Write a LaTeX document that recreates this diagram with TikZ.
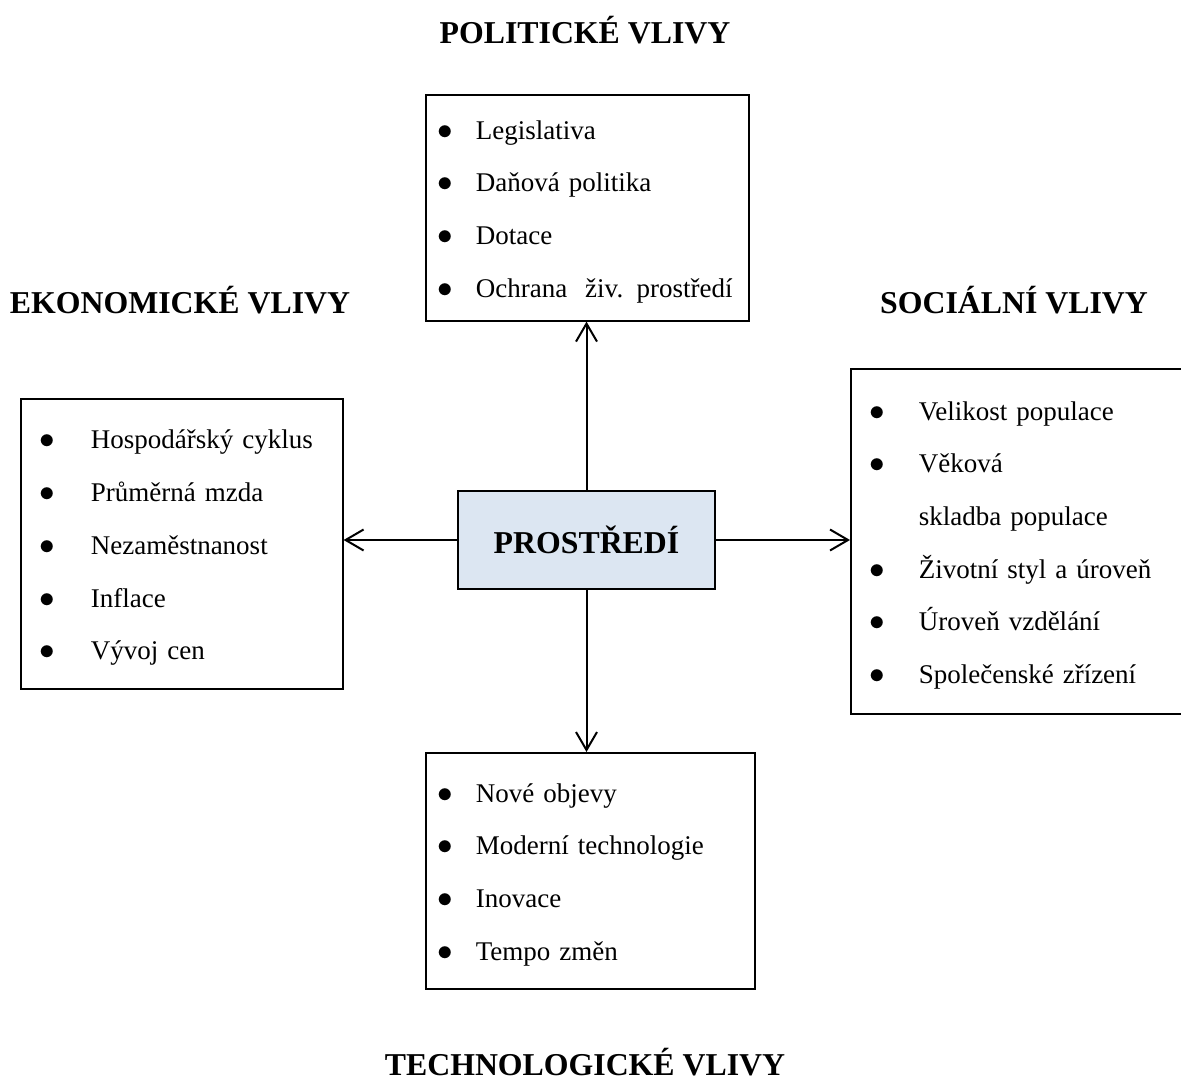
\documentclass[tikz,border=0pt]{standalone}
\usepackage{fontspec}
\setmainfont{Liberation Serif}
\usepackage{tikz}
\usetikzlibrary{arrows.meta,positioning,calc}
\definecolor{envblue}{RGB}{220,230,242}
\newcommand{\vlist}[2]{\begin{tabular}{@{}p{#1}@{}l@{}}#2\end{tabular}}
\newcommand{\bul}{\scalebox{1.25}{$\bullet$}}
\tikzset{
  base/.style={font=\fontsize{27}{52.7}\selectfont, text=black},
  listbox/.style={base, rectangle, draw=black, line width=1.6pt, fill=white, anchor=north west, align=left, inner ysep=0pt},
  envbox/.style={rectangle, draw=black, line width=1.4pt, fill=envblue, minimum width=257, minimum height=98, font=\fontsize{31.8}{36}\selectfont\bfseries},
  title/.style={font=\fontsize{31.8}{36}\selectfont\bfseries, inner sep=0pt},
  arr/.style={-{Straight Barb[length=18pt,width=21pt,line width=2pt]}, line width=2pt, draw=black},
}
\begin{document}
\begin{tikzpicture}[x=1pt,y=-1pt]
  \useasboundingbox (0,0) rectangle (1181,1081);
  \clip (0,0) rectangle (1181,1081);
  % environment
  \node[envbox] (env) at (586.5,540) {PROSTŘEDÍ};
  % political
  \node[listbox, inner xsep=12pt, text width=299pt, minimum height=226pt] (pol) at (425,94) {\vlist{38pt}{%
    \bul & Legislativa\\
    \bul & Daňová politika\\
    \bul & Dotace\\
    \bul & Ochrana\ \ živ. prostředí}};
  \node[title] (polT) at (585,30) {POLITICKÉ VLIVY};
  % economic
  \node[listbox, inner xsep=19pt, text width=284pt, minimum height=290pt] (eko) at (20,398) {\vlist{51pt}{%
    \bul & Hospodářský cyklus\\
    \bul & Průměrná mzda\\
    \bul & Nezaměstnanost\\
    \bul & Inflace\\
    \bul & Vývoj cen}};
  \node[title] (ekoT) at (180,300) {EKONOMICKÉ VLIVY};
  % social
  \node[listbox, inner xsep=19pt, text width=302pt, minimum height=345pt] (soc) at (850,368) {\vlist{49pt}{%
    \bul & Velikost populace\\
    \bul & Věková\\
    & skladba populace\\
    \bul & Životní styl a úroveň\\
    \bul & Úroveň vzdělání\\
    \bul & Společenské zřízení}};
  \node[title] (socT) at (1014,300) {SOCIÁLNÍ VLIVY};
  % technological
  \node[listbox, inner xsep=12pt, text width=305pt, minimum height=236pt] (tech) at (425,752) {\vlist{38pt}{%
    \bul & Nové objevy\\
    \bul & Moderní technologie\\
    \bul & Inovace\\
    \bul & Tempo změn}};
  \node[title] (techT) at (585,1062) {TECHNOLOGICKÉ VLIVY};
  % arrows
  \draw[arr] (env.north) -- (env.north |- pol.south);
  \draw[arr] (env.south) -- (env.south |- tech.north);
  \draw[arr] (env.west) -- (env.west -| eko.east);
  \draw[arr] (env.east) -- (env.east -| soc.west);
\end{tikzpicture}
\end{document}
